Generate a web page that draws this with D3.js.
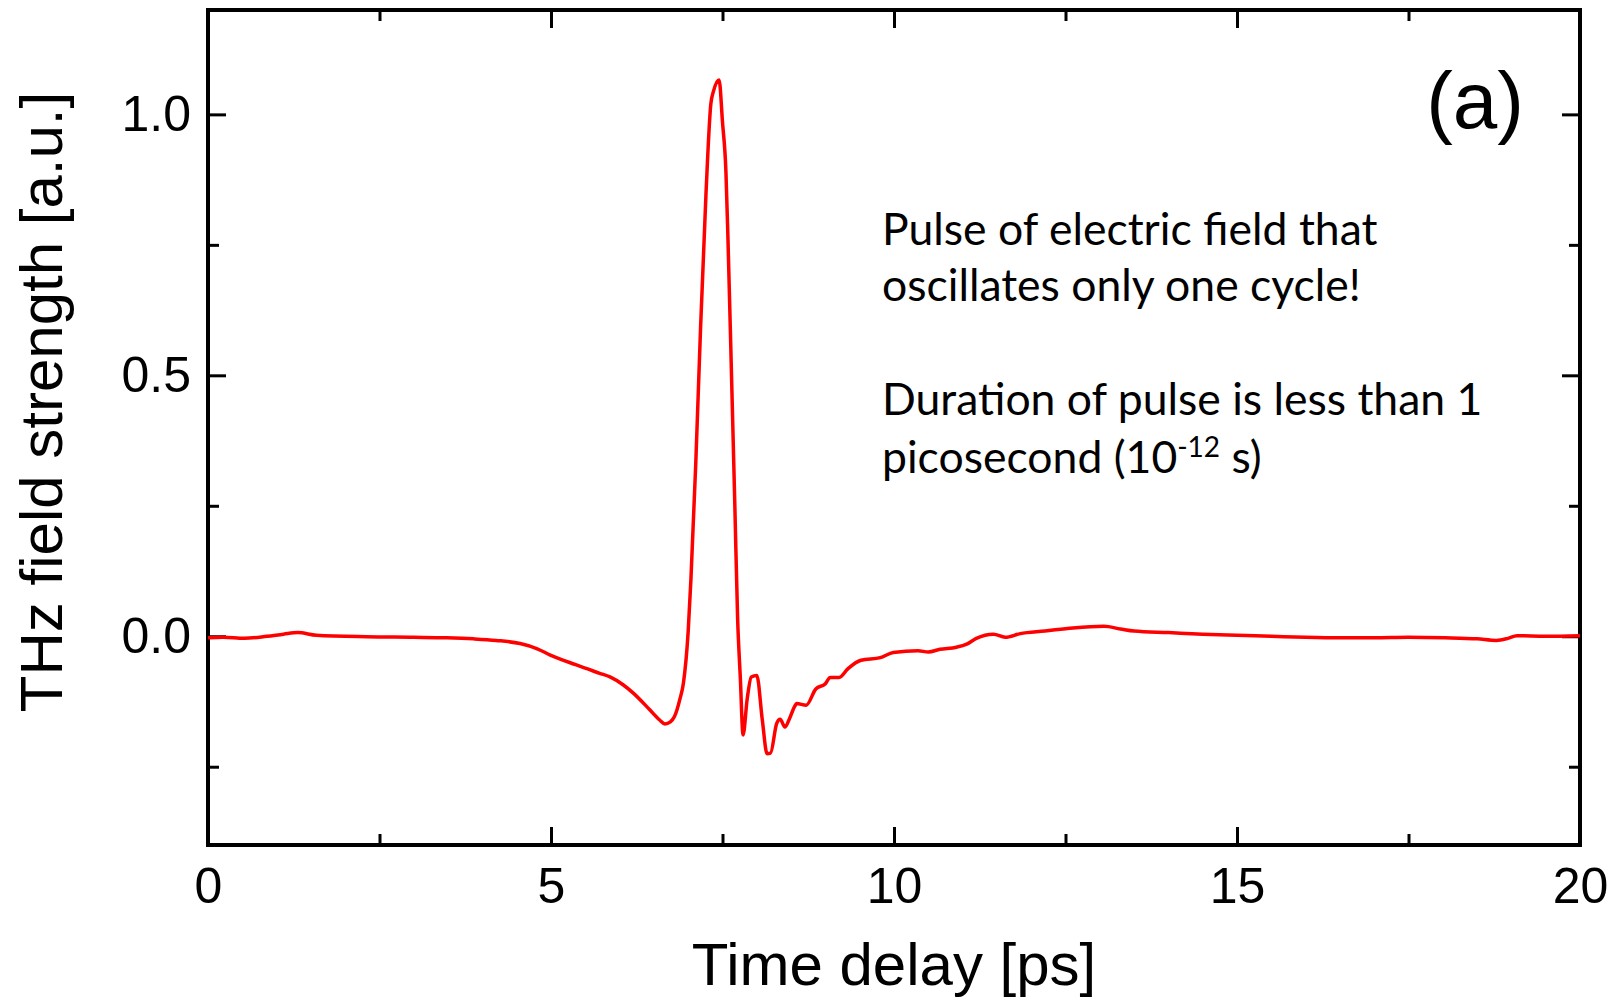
<!DOCTYPE html>
<html>
<head>
<meta charset="utf-8">
<script src="https://cdn.jsdelivr.net/npm/d3@7"></script>
<style>
  body { margin: 0; background: #fff; }
  svg { display: block; }
</style>
</head>
<body>
<svg width="1618" height="1000"></svg>
<script>
// time delay in ps
var timePs = [0.00, 0.22, 0.53, 0.86, 1.10, 1.31, 1.58, 2.31, 3.00, 3.48, 3.87, 4.20, 4.55, 4.80, 4.99,
    5.37, 5.71, 5.86, 6.05, 6.20, 6.44, 6.58, 6.66, 6.74, 6.80, 6.88, 6.93, 7.00, 7.04, 7.11, 7.18,
    7.26, 7.33, 7.37, 7.45, 7.50, 7.55, 7.58, 7.63, 7.68, 7.72, 7.76, 7.80, 7.86, 7.92, 8.00, 8.08,
    8.15, 8.20, 8.29, 8.34, 8.41, 8.47, 8.55, 8.58, 8.72, 8.86, 9.00, 9.07, 9.20, 9.33, 9.52, 9.80,
    9.99, 10.35, 10.50, 10.67, 10.91, 11.06, 11.20, 11.45, 11.62, 11.84, 12.20, 12.61, 13.06, 13.30,
    13.50, 14.00, 14.50, 15.00, 15.50, 16.00, 16.50, 17.00, 17.50, 18.03, 18.50, 18.78, 18.95, 19.08,
    19.50, 20.00];
// THz field strength in a.u.
var fieldAU = [-0.003, -0.002, -0.004, 0.000, 0.004, 0.007, 0.002, -0.001, -0.002, -0.003, -0.005, -0.008, -0.014, -0.024, -0.036,
    -0.055, -0.071, -0.078, -0.093, -0.109, -0.141, -0.160, -0.168, -0.164, -0.154, -0.120, -0.090, 0.010, 0.110, 0.330, 0.590,
    0.850, 1.020, 1.045, 1.066, 0.985, 0.890, 0.760, 0.507, 0.250, 0.036, -0.080, -0.189, -0.120, -0.078, -0.075, -0.160,
    -0.225, -0.224, -0.167, -0.159, -0.174, -0.160, -0.135, -0.129, -0.132, -0.101, -0.091, -0.079, -0.079, -0.062, -0.046, -0.041,
    -0.031, -0.028, -0.030, -0.025, -0.021, -0.015, -0.004, 0.004, -0.002, 0.005, 0.010, 0.016, 0.019, 0.014,
    0.010, 0.007, 0.004, 0.002, 0.000, -0.002, -0.003, -0.003, -0.002, -0.003, -0.005, -0.008, -0.004, 0.001,
    0.000, 0.001];

var xMajor = [0, 5, 10, 15, 20];
var xMinor = [2.5, 7.5, 12.5, 17.5];
var yMajor = [0.0, 0.5, 1.0];
var yMinor = [-0.25, 0.25, 0.75];

var noteLines = ["Pulse of electric field that", "oscillates only one cycle!",
    "Duration of pulse is less than 1"];

var data = timePs.map((t, i) => ({ t: t, v: fieldAU[i] }));

// plot box (note: "top" is taken by window.top, so use other names)
var pxL = 208, pxR = 1580, pxT = 10, pxB = 845;
var svg = d3.select("svg");

var scX = d3.scaleLinear().domain([0, 20]).range([pxL, pxR]);
var scY = d3.scaleLinear().domain([-0.4, 1.2]).range([pxB, pxT]);

var axisFont = "'Liberation Sans', Arial, sans-serif";

// inward ticks on all four sides
function ticks(g, axis) {
    g.call(axis);
    g.select(".domain").remove();
    g.selectAll(".tick line").attr("stroke", "#000").attr("stroke-width", 3);
    g.selectAll("text").attr("font-family", axisFont).attr("font-size", 50).attr("fill", "#000");
}

svg.append("g").attr("transform", `translate(0,${pxB})`)
    .call(ticks, d3.axisBottom(scX).tickValues(xMajor).tickSize(-18).tickPadding(22).tickFormat(d3.format("d")));
svg.append("g").attr("transform", `translate(0,${pxB})`)
    .call(ticks, d3.axisBottom(scX).tickValues(xMinor).tickSize(-11).tickFormat(""));
svg.append("g").attr("transform", `translate(0,${pxT})`)
    .call(ticks, d3.axisTop(scX).tickValues(xMajor).tickSize(-18).tickFormat(""));
svg.append("g").attr("transform", `translate(0,${pxT})`)
    .call(ticks, d3.axisTop(scX).tickValues(xMinor).tickSize(-11).tickFormat(""));

svg.append("g").attr("transform", `translate(${pxL},0)`)
    .call(ticks, d3.axisLeft(scY).tickValues(yMajor).tickSize(-18).tickPadding(17).tickFormat(d3.format(".1f")));
svg.append("g").attr("transform", `translate(${pxL},0)`)
    .call(ticks, d3.axisLeft(scY).tickValues(yMinor).tickSize(-11).tickFormat(""));
svg.append("g").attr("transform", `translate(${pxR},0)`)
    .call(ticks, d3.axisRight(scY).tickValues(yMajor).tickSize(-18).tickFormat(""));
svg.append("g").attr("transform", `translate(${pxR},0)`)
    .call(ticks, d3.axisRight(scY).tickValues(yMinor).tickSize(-11).tickFormat(""));

// frame
svg.append("rect")
    .attr("x", pxL).attr("y", pxT)
    .attr("width", pxR - pxL).attr("height", pxB - pxT)
    .attr("fill", "none").attr("stroke", "#000").attr("stroke-width", 4);

// the pulse
var lineMaker = d3.line().curve(d3.curveMonotoneX).x(d => scX(d.t)).y(d => scY(d.v));
svg.append("path")
    .attr("fill", "none").attr("stroke", "#ff0000").attr("stroke-width", 3.5)
    .attr("stroke-linejoin", "round")
    .attr("d", lineMaker(data));

// axis titles
svg.append("text")
    .attr("x", (pxL + pxR) / 2).attr("y", 985)
    .attr("text-anchor", "middle")
    .attr("font-family", axisFont).attr("font-size", 60)
    .text("Time delay [ps]");
svg.append("text")
    .attr("transform", "translate(62,402) rotate(-90)")
    .attr("text-anchor", "middle")
    .attr("font-family", axisFont).attr("font-size", 60)
    .text("THz field strength [a.u.]");

// panel label
svg.append("text")
    .attr("x", 1524).attr("y", 128)
    .attr("text-anchor", "end")
    .attr("font-family", axisFont).attr("font-size", 80)
    .text("(a)");

// note
var note = svg.append("g")
    .attr("font-family", "Lato, 'Open Sans', sans-serif").attr("font-size", 44.5).attr("fill", "#000");
var noteY = [245, 301, 415];
noteLines.forEach((s, i) => {
    note.append("text").attr("x", 882).attr("y", noteY[i]).text(s);
});
var last = note.append("text").attr("x", 882).attr("y", 473);
last.append("tspan").text("picosecond (10");
last.append("tspan").attr("font-size", 28).attr("dy", -16).text("-12");
last.append("tspan").attr("dy", 16).text(" s)");
</script>
</body>
</html>
